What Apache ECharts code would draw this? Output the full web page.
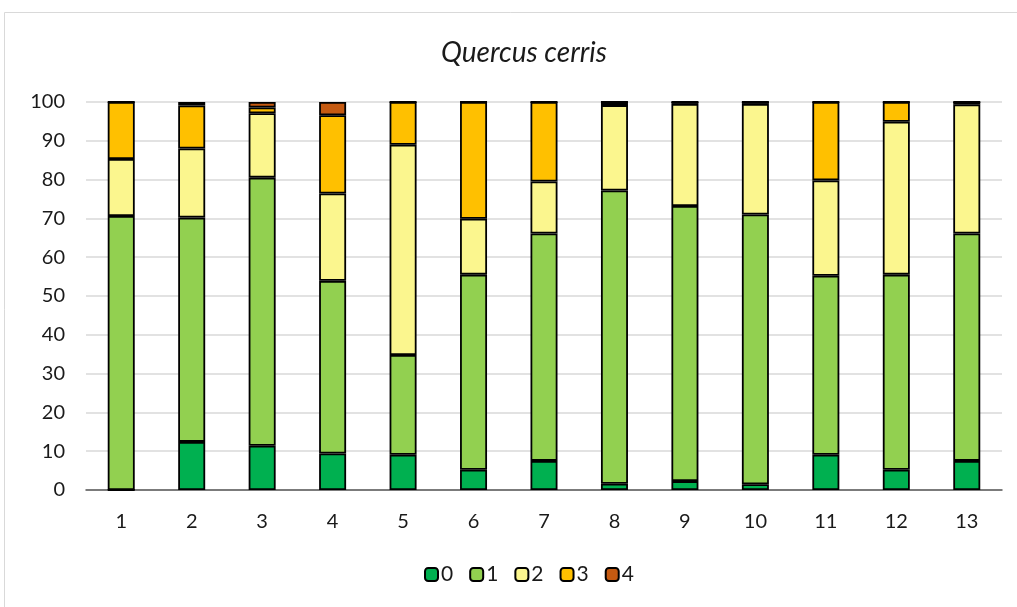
<!DOCTYPE html>
<html>
<head>
<meta charset="utf-8">
<script src="https://cdn.jsdelivr.net/npm/echarts@6/dist/echarts.min.js"></script>
<style>
  html, body { margin: 0; padding: 0; background: #fff; }
  #chart { width: 1017px; height: 607px; }
</style>
</head>
<body>
<div id="chart"></div>
<script>
// Stacked class shares (%) per plot, Quercus cerris
const categories = ['1', '2', '3', '4', '5', '6', '7', '8', '9', '10', '11', '12', '13'];
const seriesNames = ['0', '1', '2', '3', '4'];
const class0 = [0.0, 12.4, 11.4, 9.4, 9.1, 5.2, 7.5, 1.6, 2.3, 1.5, 9.1, 5.2, 7.5];
const class1 = [70.6, 57.8, 69.1, 44.5, 25.7, 50.3, 58.6, 75.6, 70.9, 69.5, 46.1, 50.3, 58.6];
const class2 = [14.7, 17.8, 16.6, 22.5, 54.2, 14.4, 13.4, 22.0, 26.3, 28.5, 24.6, 39.4, 33.3];
const class3 = [14.7, 11.1, 1.5, 20.2, 11.0, 30.1, 20.5, 0.8, 0.5, 0.5, 20.2, 5.1, 0.6];
const class4 = [0.0, 0.9, 1.4, 3.4, 0.0, 0.0, 0.0, 0.0, 0.0, 0.0, 0.0, 0.0, 0.0];
const yTicks = [0, 10, 20, 30, 40, 50, 60, 70, 80, 90, 100];

const palette = ['#00B050', '#92D050', '#FBF68E', '#FFC000', '#C55A11'];
const values = [class0, class1, class2, class3, class4];
const FONT = 'Lato';

const chart = echarts.init(document.getElementById('chart'), null, { renderer: 'canvas' });
chart.setOption({
  backgroundColor: '#ffffff',
  animation: false,
  textStyle: { fontFamily: FONT },
  title: {
    text: 'Quercus cerris',
    left: 436,
    top: 34,
    textStyle: { fontFamily: FONT, fontStyle: 'italic', fontWeight: 'normal', fontSize: 28, color: '#1a1a1a' }
  },
  graphic: [
    { type: 'line', shape: { x1: 4.5, y1: 12.5, x2: 1017, y2: 12.5 }, style: { stroke: '#D9D9D9', lineWidth: 1 }, silent: true },
    { type: 'line', shape: { x1: 4.5, y1: 12.5, x2: 4.5, y2: 607 }, style: { stroke: '#D9D9D9', lineWidth: 1 }, silent: true }
  ],
  legend: {
    data: seriesNames,
    bottom: 17,
    left: 419,
    itemWidth: 13,
    itemHeight: 13,
    itemGap: 16,
    textStyle: { fontFamily: FONT, fontSize: 21, color: '#1a1a1a', padding: [0, 0, 0, -2] }
  },
  grid: { left: 86, right: 15, top: 102, bottom: 117, containLabel: false },
  xAxis: {
    type: 'category',
    data: categories,
    axisLine: { lineStyle: { color: '#595959', width: 1.5 } },
    axisTick: { show: false },
    axisLabel: { fontFamily: FONT, fontSize: 20, color: '#1a1a1a', margin: 22 }
  },
  yAxis: {
    type: 'value',
    min: yTicks[0],
    max: yTicks[yTicks.length - 1],
    interval: yTicks[1] - yTicks[0],
    axisLine: { show: false },
    axisTick: { show: false },
    splitLine: { lineStyle: { color: '#D9D9D9', width: 1.5 } },
    axisLabel: { fontFamily: FONT, fontSize: 20, color: '#1a1a1a', margin: 21 }
  },
  series: seriesNames.map((name, i) => ({
    name: name,
    type: 'bar',
    stack: 'total',
    barWidth: 27,
    data: values[i],
    itemStyle: { color: palette[i], borderColor: '#000000', borderWidth: 1.8 }
  }))
});
</script>
</body>
</html>
